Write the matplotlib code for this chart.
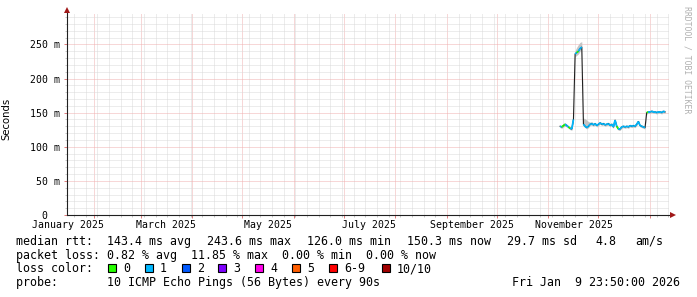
import matplotlib
matplotlib.use("Agg")
import matplotlib.pyplot as plt
import matplotlib.dates as mdates
import matplotlib.transforms as mtransforms
from matplotlib.patches import Rectangle
from matplotlib.collections import LineCollection
from matplotlib.ticker import MultipleLocator, FixedLocator, NullFormatter
import pandas as pd
import numpy as np

W, H = 697, 297

# ---------------- data ----------------
first_day = "2025-11-08"
last_day = "2026-01-10"

median_ms = [130, 129, 131, 133, 131, 129, 127, 126, 140, 236,
             238, 240, 244, 246, 133, 130, 128, 130, 133, 134,
             132, 134, 131, 133, 135, 133, 134, 132, 133, 134,
             131, 133, 129, 139, 130, 126, 126, 129, 130, 129,
             130, 129, 131, 130, 131, 130, 133, 137, 131, 130,
             129, 128, 150, 151, 151, 152, 151, 151, 150, 151,
             151, 150, 152, 151]

loss_class = [1, 0, 0, 1, 1, 0, 1, 1, 1, 1,
              0, 1, 1, 1, 1, 1, 1, 1, 1, 1,
              1, 1, 1, 1, 1, 1, 1, 1, 1, 1,
              1, 1, 1, 1, 0, 1, 1, 1, 1, 1,
              1, 1, 1, 1, 1, 1, 1, 1, 1, 1,
              1, 1, 0, 1, 1, 1, 1, 1, 1, 1,
              1, 1, 1, 1]

smoke_lo_ms = [128, 127, 129, 130, 129, 127, 125, 124, 137, 232,
               234, 236, 240, 243, 130, 128, 126, 128, 131, 132,
               130, 132, 129, 131, 133, 131, 132, 130, 131, 132,
               129, 131, 127, 136, 128, 124, 124, 127, 128, 127,
               128, 127, 129, 128, 129, 128, 131, 135, 129, 128,
               127, 126, 148, 149, 149, 150, 149, 149, 148, 149,
               149, 148, 150, 149]

smoke_hi_ms = [132, 131, 134, 135, 133, 131, 129, 129, 143, 241,
               246, 250, 253, 254, 142, 141, 139, 137, 136, 137,
               134, 136, 133, 135, 137, 135, 136, 134, 135, 136,
               133, 135, 131, 141, 132, 128, 128, 131, 132, 131,
               132, 131, 133, 132, 133, 132, 135, 139, 133, 132,
               131, 130, 152, 153, 153, 154, 153, 153, 152, 153,
               153, 152, 154, 153]

loss_colors = ["#26ff00", "#00b8ff", "#0059ff", "#7e00ff",
               "#ff00ea", "#ff5e00", "#ff0000", "#a10000"]
loss_labels = ["0", "1", "2", "3", "4", "5", "6-9", "10/10"]

y_ticks_ms = [0, 50, 100, 150, 200, 250]
y_tick_labels = ["0  ", "50 m", "100 m", "150 m", "200 m", "250 m"]

month_labels = ["January 2025", "March 2025", "May 2025",
                "July 2025", "September 2025", "November 2025"]
month_label_dates = ["2025-01-16 06:00", "2025-03-16 06:00", "2025-05-16 06:00",
                     "2025-07-16 06:00", "2025-09-16 06:00", "2025-11-16 06:00"]

x_start = "2025-01-15 18:40"
x_end = "2026-01-12 09:30"

stats_items = ["median rtt:", "143.4 ms avg", "243.6 ms max", "126.0 ms min",
               "150.3 ms now", "29.7 ms sd", "4.8", "am/s"]
loss_line = "packet loss: 0.82 % avg  11.85 % max  0.00 % min  0.00 % now"
probe_line = "probe:       10 ICMP Echo Pings (56 Bytes) every 90s"
date_text = "Fri Jan  9 23:50:00 2026"

# ---------------- figure ----------------
MONO = "DejaVu Sans Mono"
fig = plt.figure(figsize=(W / 100, H / 100), dpi=100)
fig.patch.set_facecolor("white")


def fx(x):
    return x / W


def fy(y):
    return 1 - y / H


ax = fig.add_axes([fx(67), fy(215), 602 / W, 202 / H])
ax.set_facecolor("white")

dates = pd.date_range(first_day, last_day, freq="D")
xnum = mdates.date2num(dates.to_pydatetime())
med = np.array(median_ms, dtype=float)
lo = np.array(smoke_lo_ms, dtype=float)
hi = np.array(smoke_hi_ms, dtype=float)

ax.set_xlim(mdates.date2num(pd.Timestamp(x_start)), mdates.date2num(pd.Timestamp(x_end)))
ax.set_ylim(0, 296)

# grid
ax.xaxis.set_major_locator(mdates.MonthLocator())
ax.xaxis.set_minor_locator(mdates.WeekdayLocator(byweekday=mdates.MO))
ax.xaxis.set_major_formatter(NullFormatter())
ax.xaxis.set_minor_formatter(NullFormatter())
ax.yaxis.set_major_locator(FixedLocator(y_ticks_ms))
ax.yaxis.set_minor_locator(MultipleLocator(10))
ax.set_yticklabels(y_tick_labels, fontfamily=MONO, fontsize=7.1)
ax.set_axisbelow(True)
ax.grid(which="major", color="#f0b0b0", linestyle=(0, (1, 1)), linewidth=0.72)
ax.grid(which="minor", color="#dadada", linestyle=(0, (1, 1)), linewidth=0.72)

ax.tick_params(axis="x", which="major", length=2, width=0.72, color="#e08080", direction="out")
ax.tick_params(axis="x", which="minor", length=1.2, width=0.72, color="#c8c8c8", direction="out")
ax.tick_params(axis="y", which="major", length=2, width=0.72, color="#e08080", direction="out", pad=3.2)
ax.tick_params(axis="y", which="minor", length=1.2, width=0.72, color="#c8c8c8", direction="out")

for s in ("top", "right"):
    ax.spines[s].set_visible(False)
for s in ("left", "bottom"):
    ax.spines[s].set_color("#202020")
    ax.spines[s].set_linewidth(0.8)

# arrows
ax.plot([0], [1 + 3 / 202], marker="^", markersize=4, color="#a01818",
        transform=ax.transAxes, clip_on=False, zorder=5, markeredgewidth=0)
ax.plot([1 + 4 / 602], [0], marker=">", markersize=4, color="#a01818",
        transform=ax.transAxes, clip_on=False, zorder=5, markeredgewidth=0)

# smoke
ax.fill_between(xnum, lo, hi, color="#c4c4c4", linewidth=0, zorder=2)

# median line (dark base + colored by loss)
ax.plot(xnum, med, color="#202020", linewidth=0.8, zorder=3)
segs, cols = [], []
for i in range(len(med) - 1):
    if abs(med[i + 1] - med[i]) <= 15:
        segs.append([(xnum[i], med[i]), (xnum[i + 1], med[i + 1])])
        cols.append(loss_colors[loss_class[i]])
lc = LineCollection(segs, colors=cols, linewidths=1.25, zorder=4, capstyle="butt")
ax.add_collection(lc)

# x labels (centered mid-month)
trans = mtransforms.blended_transform_factory(ax.transData, ax.transAxes)
for lab, d in zip(month_labels, month_label_dates):
    ax.text(mdates.date2num(pd.Timestamp(d)), -9.5 / 202, lab, transform=trans,
            ha="center", va="center", fontfamily=MONO, fontsize=7.1, color="black")

# y label and watermark
fig.text(fx(6), fy(119), "Seconds", rotation=90, ha="center", va="center",
         fontfamily="DejaVu Sans", fontsize=7.3, color="black")
fig.text(fx(687), fy(60), "RRDTOOL / TOBI OETIKER", rotation=270, ha="center", va="center",
         fontfamily=MONO, fontsize=5.9, color="#b0b0b0")

# legend
LEG = 8.37
stats_x = [16, 107.3, 207.3, 307.3, 407.3, 506.7, 595, 635.7]
for t, x in zip(stats_items, stats_x):
    fig.text(fx(x), fy(245), t, fontfamily=MONO, fontsize=LEG, va="baseline", ha="left")
fig.text(fx(16), fy(258.7), loss_line, fontfamily=MONO, fontsize=LEG, va="baseline", ha="left")
fig.text(fx(16), fy(272.5), "loss color:", fontfamily=MONO, fontsize=LEG, va="baseline", ha="left")
box_x = [108.3, 145, 181.7, 218.3, 255.3, 292.3, 329.3, 382]
for bx, c, lab in zip(box_x, loss_colors, loss_labels):
    fig.patches.append(Rectangle((fx(bx), fy(272)), 8 / W, 8 / H, transform=fig.transFigure,
                                 facecolor=c, edgecolor="black", linewidth=0.8))
    fig.text(fx(bx + 15), fy(272.5), lab, fontfamily=MONO, fontsize=LEG, va="baseline", ha="left")
fig.text(fx(16), fy(286.3), probe_line, fontfamily=MONO, fontsize=LEG, va="baseline", ha="left")
fig.text(fx(680), fy(286.3), date_text, fontfamily=MONO, fontsize=LEG, va="baseline", ha="right")

fig.savefig("out.png", dpi=100, facecolor="white")
